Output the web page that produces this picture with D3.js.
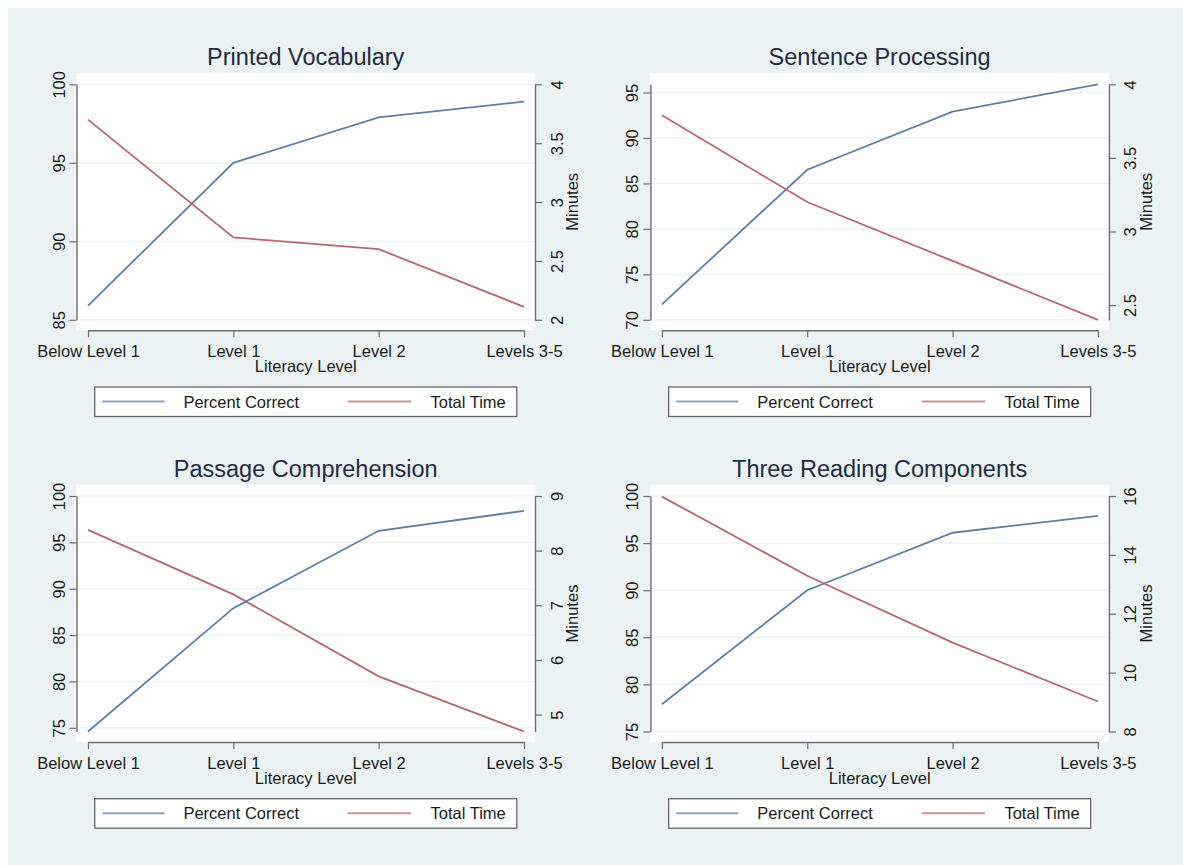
<!DOCTYPE html>
<html>
<head>
<meta charset="utf-8">
<script src="https://cdn.jsdelivr.net/npm/d3@7"></script>
<style>
  body { margin: 0; background: #fff; }
  svg text { font-family: "Liberation Sans", Arial, sans-serif; }
</style>
</head>
<body>
<svg id="chart" width="1183" height="865"></svg>
<script>
const levels = ['Below Level 1', 'Level 1', 'Level 2', 'Levels 3-5'];
const seriesNames = ['Percent Correct', 'Total Time'];
const panelTitles = ['Printed Vocabulary', 'Sentence Processing', 'Passage Comprehension', 'Three Reading Components'];

const vocabPercent = [85.9, 95.0, 97.9, 98.9];
const vocabTime = [3.70, 2.70, 2.60, 2.11];
const sentencePercent = [71.7, 86.5, 92.9, 95.9];
const sentenceTime = [3.79, 3.20, 2.80, 2.40];
const passagePercent = [74.6, 87.9, 96.25, 98.4];
const passageTime = [8.38, 7.20, 5.70, 4.69];
const threePercent = [77.9, 90.0, 96.1, 97.9];
const threeTime = [15.98, 13.29, 11.02, 9.02];

const vocabLeftTicks = [85, 90, 95, 100];
const vocabRightTicks = [2, 2.5, 3, 3.5, 4];
const sentenceLeftTicks = [70, 75, 80, 85, 90, 95];
const sentenceRightTicks = [2.5, 3, 3.5, 4];
const passageLeftTicks = [75, 80, 85, 90, 95, 100];
const passageRightTicks = [5, 6, 7, 8, 9];
const threeLeftTicks = [75, 80, 85, 90, 95, 100];
const threeRightTicks = [8, 10, 12, 14, 16];

const svg = d3.select('#chart');
const blue = '#5f7ea3';
const red = '#b8666d';
const axisColor = '#6e6e6e';

svg.append('rect')
  .attr('x', 8).attr('y', 8)
  .attr('width', 1175).attr('height', 857)
  .attr('fill', '#eaf2f3');

const panels = [
  { title: panelTitles[0], pc: vocabPercent, tt: vocabTime, lt: vocabLeftTicks, rt: vocabRightTicks, x: 76.5, y: 73.3 },
  { title: panelTitles[1], pc: sentencePercent, tt: sentenceTime, lt: sentenceLeftTicks, rt: sentenceRightTicks, x: 650.4, y: 73.3 },
  { title: panelTitles[2], pc: passagePercent, tt: passageTime, lt: passageLeftTicks, rt: passageRightTicks, x: 76.5, y: 485 },
  { title: panelTitles[3], pc: threePercent, tt: threeTime, lt: threeLeftTicks, rt: threeRightTicks, x: 650.4, y: 485 }
];

const pw = 458.5, ph = 257;

const drawPanel = (p) => {
  const g = svg.append('g').attr('transform', `translate(${p.x}, ${p.y})`);

  const x = d3.scalePoint().domain(levels).range([11.5, pw - 11]);
  const yL = d3.scaleLinear().domain(d3.extent(p.lt.concat(p.pc))).range([ph - 10.5, 11]);
  const yR = d3.scaleLinear().domain(d3.extent(p.rt.concat(p.tt))).range([ph - 10.5, 11]);

  g.append('rect')
    .attr('width', pw).attr('height', ph)
    .attr('fill', '#fff');

  // gridlines
  g.selectAll('.grid')
    .data(p.lt)
    .enter()
    .append('line')
    .attr('x1', 0).attr('x2', pw)
    .attr('y1', d => yL(d)).attr('y2', d => yL(d))
    .attr('stroke', '#eaf2f3')
    .attr('stroke-width', 1.2);

  // lines
  const line = (scale) => d3.line().x((d, i) => x(levels[i])).y(d => scale(d));
  g.append('path').datum(p.pc)
    .attr('d', line(yL))
    .attr('fill', 'none').attr('stroke', blue).attr('stroke-width', 1.8);
  g.append('path').datum(p.tt)
    .attr('d', line(yR))
    .attr('fill', 'none').attr('stroke', red).attr('stroke-width', 1.8);

  // axes
  const left = g.append('g')
    .call(d3.axisLeft(yL).tickValues(p.lt).tickSize(7).tickSizeOuter(0).tickFormat(d3.format('d')));
  const right = g.append('g')
    .attr('transform', `translate(${pw}, 0)`)
    .call(d3.axisRight(yR).tickValues(p.rt).tickSize(7).tickSizeOuter(0).tickFormat(d => String(d)));
  const bottom = g.append('g')
    .attr('transform', `translate(0, ${ph})`)
    .call(d3.axisBottom(x).tickSize(7).tickSizeOuter(0));

  [left, right, bottom].forEach(a => {
    a.select('.domain').attr('stroke', axisColor).attr('stroke-width', 1.4);
    a.selectAll('.tick line').attr('stroke', axisColor).attr('stroke-width', 1.2);
    a.selectAll('.tick text')
      .attr('fill', '#1a1a1a')
      .style('font-size', '16.5px')
      .style('font-family', '"Liberation Sans", Arial, sans-serif');
  });
  left.selectAll('.tick text')
    .attr('x', null).attr('dy', null)
    .attr('text-anchor', 'middle')
    .attr('dominant-baseline', 'central')
    .attr('transform', 'translate(-18, 0) rotate(-90)');
  right.selectAll('.tick text')
    .attr('x', null).attr('dy', null)
    .attr('text-anchor', 'middle')
    .attr('dominant-baseline', 'central')
    .attr('transform', 'translate(21.5, 0) rotate(-90)');
  bottom.selectAll('.tick text')
    .attr('y', 26.7).attr('dy', null);

  // titles
  g.append('text')
    .attr('x', pw / 2).attr('y', -8)
    .attr('text-anchor', 'middle')
    .attr('fill', '#1f2b45')
    .style('font-size', '23.5px')
    .text(p.title);

  g.append('text')
    .attr('x', pw / 2).attr('y', ph + 42)
    .attr('text-anchor', 'middle')
    .attr('fill', '#1a1a1a')
    .style('font-size', '16.5px')
    .text('Literacy Level');

  g.append('text')
    .attr('transform', `translate(${pw + 37}, ${ph / 2}) rotate(-90)`)
    .attr('text-anchor', 'middle')
    .attr('dominant-baseline', 'central')
    .attr('fill', '#1a1a1a')
    .style('font-size', '16.5px')
    .text('Minutes');

  // legend
  const lg = g.append('g').attr('transform', `translate(${pw / 2 - 211}, ${ph + 56.7})`);
  lg.append('rect')
    .attr('width', 422).attr('height', 29.5)
    .attr('fill', '#fff')
    .attr('stroke', '#666').attr('stroke-width', 1.3);
  const items = [
    { name: seriesNames[0], color: blue, x1: 7.6, x2: 69.6, tx: 88.7, anchor: 'start' },
    { name: seriesNames[1], color: red, x1: 253, x2: 316.4, tx: 411, anchor: 'end' }
  ];
  items.forEach(it => {
    lg.append('line')
      .attr('x1', it.x1).attr('x2', it.x2)
      .attr('y1', 14.5).attr('y2', 14.5)
      .attr('stroke', it.color).attr('stroke-width', 2).attr('opacity', 0.7);
    lg.append('text')
      .attr('x', it.tx).attr('y', 20.5)
      .attr('text-anchor', it.anchor)
      .attr('fill', '#1a1a1a')
      .style('font-size', '16.5px')
      .text(it.name);
  });
};

panels.forEach(drawPanel);
</script>
</body>
</html>
